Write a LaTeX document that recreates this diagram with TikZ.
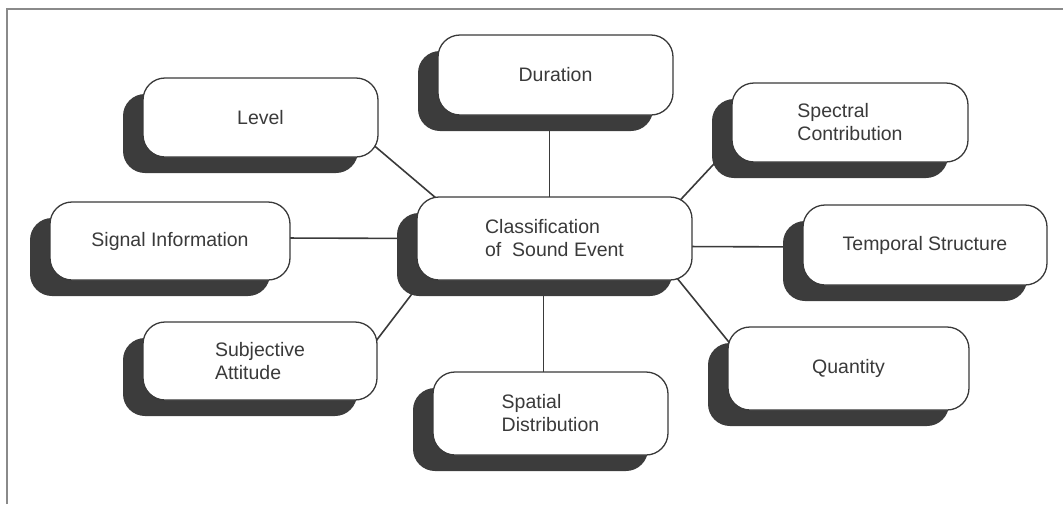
\documentclass[tikz,border=0pt]{standalone}
\usepackage{fontspec}
\setmainfont{Liberation Sans}
\usetikzlibrary{shadows,calc,backgrounds}
\definecolor{inkc}{HTML}{3A3A3A}
\definecolor{shadc}{HTML}{3C3C3C}
\definecolor{framec}{HTML}{8A8A8A}
\tikzset{
  catbox/.style={draw=inkc, line width=1.3pt, fill=white, rounded corners=22pt,
    inner sep=0pt, align=left, text=inkc,
    font=\fontsize{19.5}{23}\selectfont,
    drop shadow={shadow xshift=-20pt, shadow yshift=-16pt, fill=shadc, opacity=1}},
  link/.style={draw=inkc, line width=1.6pt}
}
\begin{document}
\begin{tikzpicture}[x=1pt,y=-1pt]
\useasboundingbox (0,0) rectangle (1063,504);
\coordinate (fa) at (7,504);
\coordinate (fb) at (7,9);
\coordinate (fc) at (1063,9);
\draw[framec, line width=1.2pt] (fa) -- (fb) -- (fc);

\node[catbox, minimum width=235pt, minimum height=79pt] (lev) at (260.5,117.5) {Level};
\node[catbox, minimum width=235pt, minimum height=80pt] (dur) at (555.5,75) {Duration};
\node[catbox, minimum width=236pt, minimum height=79pt] (spec) at (850,122.5) {Spectral\\Contribution};
\node[catbox, minimum width=240pt, minimum height=78pt] (sig) at (170,241) {Signal Information};
\node[catbox, minimum width=275pt, minimum height=83pt] (cls) at (554.5,238.5) {Classification\\of\ \ Sound Event};
\node[catbox, minimum width=244pt, minimum height=80pt] (temp) at (925,245) {Temporal Structure};
\node[catbox, minimum width=234pt, minimum height=78pt] (subj) at (260,361) {Subjective\\Attitude};
\node[catbox, minimum width=235pt, minimum height=83pt] (spat) at (550.5,413.5) {Spatial\\Distribution};
\node[catbox, minimum width=241pt, minimum height=83pt] (quant) at (848.5,368.5) {Quantity};

\begin{scope}[on background layer]
\draw[link] ($(lev.south east)+(-8,-15)$) -- ($(cls.north west)+(33,13)$);
\draw[link] ($(dur.south)+(-6,-5)$) -- ($(dur.south |- cls.north)+(-6,6)$);
\draw[link] ($(spec.south west)+(8,-26)$) -- ($(cls.north east)+(-22,14)$);
\draw[link] ($(sig.east)+(-10,-3)$) -- ($(cls.west)+(13,0)$);
\draw[link] ($(cls.east)+(-10,8)$) -- ($(temp.west)+(10,2)$);
\draw[link] ($(subj.east)+(-7,-13)$) -- ($(cls.south west)+(8,-3)$);
\draw[link] ($(cls.south)+(-11,-5)$) -- ($(cls.south |- spat.north)+(-11,6)$);
\draw[link] ($(quant.west)+(12,-13.5)$) -- ($(cls.south east)+(-16,-3)$);
\end{scope}
\end{tikzpicture}
\end{document}
